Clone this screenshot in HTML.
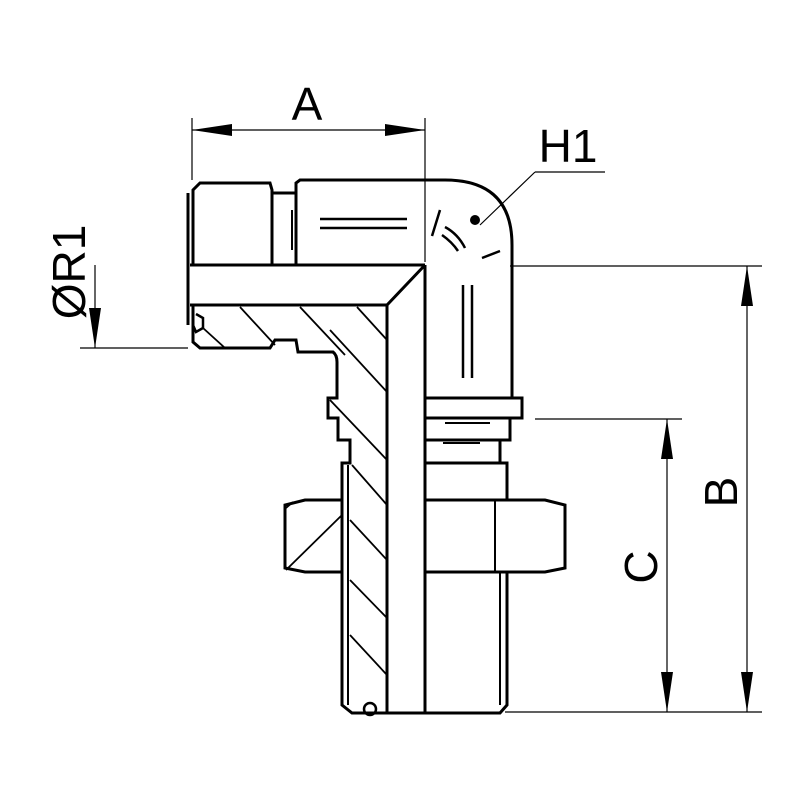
<!DOCTYPE html>
<html><head><meta charset="utf-8"><style>html,body{margin:0;padding:0;background:#fff}svg{display:block}</style></head>
<body>
<svg width="800" height="800" viewBox="0 0 800 800" xmlns="http://www.w3.org/2000/svg">
<g fill="none" stroke="#000" stroke-width="3" stroke-linejoin="miter">
  <!-- left nut -->
  <path d="M193,265 L193,190 L200,183 L270,183 L272,190 L272,265"/>
  <path d="M188,193 L188,325"/>
  <path d="M272,193 L296,193 L296,265"/>
  <path d="M292,210 L292,250" stroke-width="2"/>
  <!-- body top -->
  <path d="M296,265 L296,183 L300,180 L445,180 Q512,180 512,245 L512,398"/>
  <line x1="320" y1="219" x2="407" y2="219" stroke-width="2.5"/>
  <line x1="320" y1="228" x2="407" y2="228" stroke-width="2.5"/>
  <line x1="463" y1="285" x2="463" y2="378" stroke-width="2.5"/>
  <line x1="472" y1="285" x2="472" y2="378" stroke-width="2.5"/>
  <path d="M440,210 L432,236 M445,227 Q458,234 465,248 M442,235 Q452,242 458,251 M482,258 L500,251" stroke-width="2.5"/>
  <!-- bore horizontal -->
  <path d="M190,265 L425,265"/>
  <path d="M190,305 L387,305 L425,265"/>
  <!-- vertical bore -->
  <path d="M387,305 L387,713"/>
  <path d="M425,265 L425,713"/>
  <!-- lower section outline -->
  <path d="M193,305 L193,342 L200,348 L270,348 L275,340 L296,340 L298,352 L333,352 Q337,355 337,362 L337,398 L328,398 L328,418 L338,418 L338,440 L350,440 L350,463 L342,463 L342,705 L352,713 L425,713"/>
  <path d="M348,465 L348,705" stroke-width="2"/>
  <circle cx="370" cy="709" r="6" stroke-width="2.5"/>
  <!-- seal at left -->
  <path d="M196,314 L203,318 L203,328 L196,332 L193,325" stroke-width="2.5"/>
  <!-- hatching -->
  <g stroke-width="1.8">
    <line x1="240" y1="307" x2="275" y2="345"/>
    <line x1="300" y1="307" x2="345" y2="355"/>
    <line x1="357" y1="307" x2="387" y2="340"/>
    <line x1="203" y1="328" x2="225" y2="348"/>
    <line x1="330" y1="330" x2="387" y2="392"/>
    <line x1="330" y1="400" x2="387" y2="460"/>
    <line x1="352" y1="465" x2="387" y2="505"/>
    <line x1="350" y1="520" x2="387" y2="560"/>
    <line x1="350" y1="580" x2="387" y2="618"/>
    <line x1="350" y1="635" x2="387" y2="675"/>
    <line x1="286" y1="570" x2="342" y2="515"/>
    <line x1="286" y1="508" x2="293" y2="502"/>
  </g>
  <!-- right collar etc -->
  <path d="M425,398 L522,398 L522,418 L425,418"/>
  <path d="M425,418 L510,418 L510,440 L425,440"/>
  <path d="M500,440 L500,463"/>
  <path d="M425,463 L507,463 L507,500"/>
  <line x1="445" y1="423" x2="490" y2="423" stroke-width="2"/>
  <line x1="443" y1="443" x2="480" y2="443" stroke-width="2"/>
  <!-- hex nut -->
  <path d="M425,500 L545,500 L565,505 L565,568 L545,572 L425,572"/>
  <path d="M495,500 L495,572" stroke-width="2"/>
  <path d="M342,500 L305,500 L285,505 L285,568 L305,572 L342,572"/>
  <!-- lower thread -->
  <path d="M425,572 L507,572 L507,705 L500,713 L425,713"/>
  <line x1="500" y1="572" x2="500" y2="705" stroke-width="2"/>
</g>
<!-- dimension lines -->
<g stroke="#000" stroke-width="1.2" fill="none">
  <line x1="192" y1="118" x2="192" y2="180"/>
  <line x1="425" y1="118" x2="425" y2="262"/>
  <line x1="192" y1="130" x2="425" y2="130"/>
  <line x1="80" y1="348" x2="188" y2="348"/>
  <line x1="95" y1="265" x2="95" y2="348"/>
  <line x1="480" y1="225" x2="535" y2="172"/>
  <line x1="535" y1="172" x2="605" y2="172"/>
  <line x1="510" y1="266" x2="762" y2="266"/>
  <line x1="505" y1="712" x2="762" y2="712"/>
  <line x1="747" y1="266" x2="747" y2="712"/>
  <line x1="535" y1="419" x2="682" y2="419"/>
  <line x1="667" y1="419" x2="667" y2="712"/>
</g>
<g fill="#000">
  <polygon points="192,130 232,124 232,136"/>
  <polygon points="425,130 385,124 385,136"/>
  <polygon points="95,348 89,308 101,308"/>
  <polygon points="747,266 741,306 753,306"/>
  <polygon points="747,712 741,672 753,672"/>
  <polygon points="667,419 661,459 673,459"/>
  <polygon points="667,712 661,672 673,672"/>
  <circle cx="475" cy="220" r="5"/>
</g>
<g font-family="Liberation Sans, sans-serif" font-size="46" fill="#000">
  <text x="307" y="120" text-anchor="middle">A</text>
  <text x="568" y="162" text-anchor="middle">H1</text>
  <text transform="translate(85,272) rotate(-90)" text-anchor="middle">ØR1</text>
  <text transform="translate(737,492) rotate(-90)" text-anchor="middle">B</text>
  <text transform="translate(657,567) rotate(-90)" text-anchor="middle">C</text>
</g>
</svg>
</body></html>
